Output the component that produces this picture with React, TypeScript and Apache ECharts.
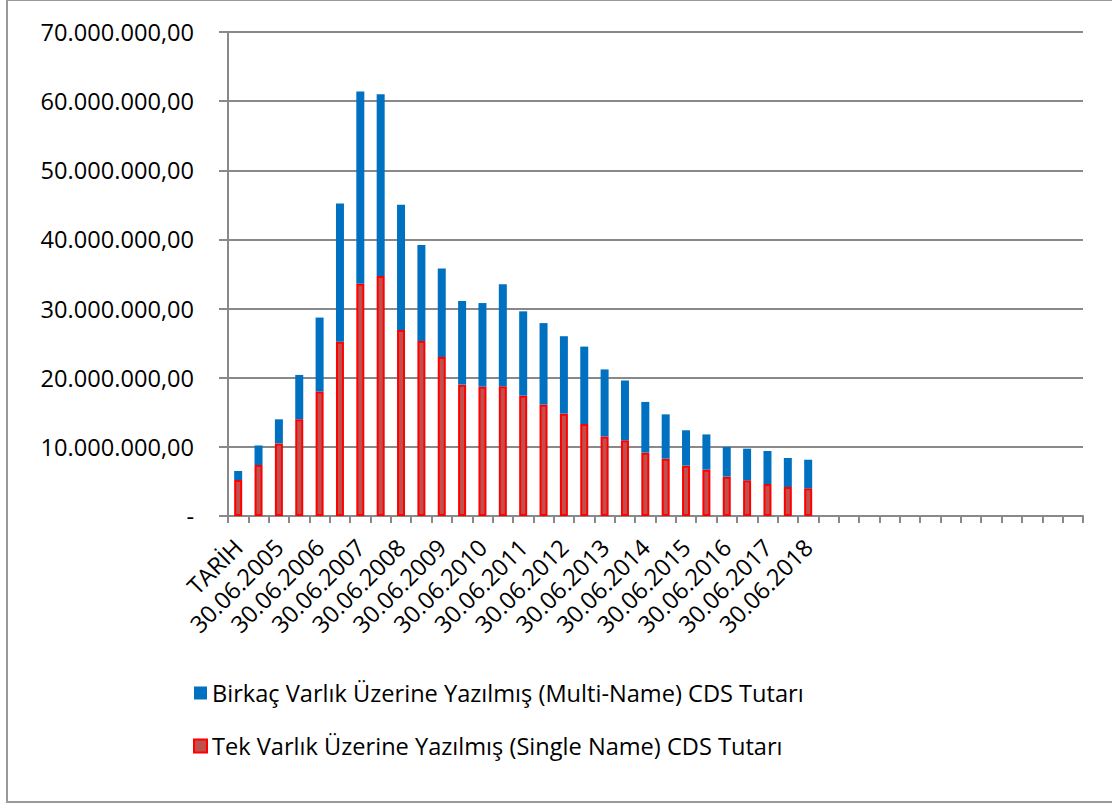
import React, { useEffect, useRef } from "react";
import * as echarts from "echarts";

const categories: string[] = [
  "TARİH", "31.12.2004", "30.06.2005", "31.12.2005", "30.06.2006", "31.12.2006",
  "30.06.2007", "31.12.2007", "30.06.2008", "31.12.2008", "30.06.2009", "31.12.2009",
  "30.06.2010", "31.12.2010", "30.06.2011", "31.12.2011", "30.06.2012", "31.12.2012",
  "30.06.2013", "31.12.2013", "30.06.2014", "31.12.2014", "30.06.2015", "31.12.2015",
  "30.06.2016", "31.12.2016", "30.06.2017", "31.12.2017", "30.06.2018",
  "", "", "", "", "", "", "", "", "", "", "", "", "",
];

// Tek Varlık (Single Name) values
const singleName: number[] = [
  5200000, 7370000, 10500000, 14000000, 18000000, 25200000, 33600000, 34700000,
  26900000, 25300000, 23000000, 19000000, 18700000, 18750000, 17400000, 16100000,
  14800000, 13300000, 11500000, 10950000, 9160000, 8290000, 7280000, 6700000,
  5690000, 5160000, 4630000, 4190000, 4000000,
];

// Birkaç Varlık (Multi-Name) values
const multiName: number[] = [
  1310000, 2830000, 3480000, 6400000, 10700000, 20000000, 27800000, 26300000,
  18100000, 13900000, 12800000, 12100000, 12100000, 14750000, 12200000, 11800000,
  11200000, 11200000, 9700000, 8650000, 7340000, 6410000, 5120000, 5100000,
  4290000, 4580000, 4770000, 4200000, 4140000,
];

const yTicks = { min: 0, max: 70000000, interval: 10000000 };

const multiLabel = "Birkaç Varlık Üzerine Yazılmış (Multi-Name) CDS Tutarı";
const singleLabel = "Tek Varlık Üzerine Yazılmış (Single Name) CDS Tutarı";

function fmt(v: number): string {
  if (v === 0) return "-";
  const s = Math.round(v).toString();
  return s.replace(/\B(?=(\d{3})+(?!\d))/g, ".") + ",00";
}

const FONT = "Open Sans";
const FS = 23.6;

export default function App() {
  const ref = useRef<HTMLDivElement>(null);
  useEffect(() => {
    if (!ref.current) return;
    const chart = echarts.init(ref.current, null, { renderer: "svg" });
    chart.setOption({
      animation: false,
      backgroundColor: "#ffffff",
      textStyle: { fontFamily: FONT },
      graphic: [
        {
          type: "rect",
          shape: { x: 7, y: 0, width: 1130, height: 802 },
          style: { fill: "none", stroke: "#9a9a9a", lineWidth: 2 },
          silent: true,
        },
      ],
      grid: { left: 228, top: 32, right: 29, bottom: 289, containLabel: false },
      legend: {
        orient: "vertical",
        left: 188,
        top: 676,
        itemWidth: 13,
        itemHeight: 13,
        itemGap: 29,
        icon: "rect",
        data: [multiLabel, singleLabel],
        textStyle: { fontFamily: FONT, fontSize: FS, color: "#000" },
      },
      xAxis: {
        type: "category",
        data: categories,
        boundaryGap: true,
        axisLine: { lineStyle: { color: "#898989", width: 2 } },
        axisTick: { show: true, interval: 0, length: 7, lineStyle: { color: "#898989", width: 2 } },
        axisLabel: {
          interval: 1,
          rotate: 45,
          margin: 27,
          fontFamily: FONT,
          fontSize: FS,
          color: "#000",
        },
        splitLine: { show: false },
      },
      yAxis: {
        type: "value",
        min: yTicks.min,
        max: yTicks.max,
        interval: yTicks.interval,
        axisLine: { show: true, lineStyle: { color: "#898989", width: 2 } },
        axisTick: { show: true, length: 9, lineStyle: { color: "#898989", width: 2 } },
        axisLabel: {
          margin: 34,
          fontFamily: FONT,
          fontSize: FS,
          color: "#000",
          formatter: (v: number) => fmt(v),
        },
        splitLine: { show: true, lineStyle: { color: "#898989", width: 2 } },
      },
      series: [
        {
          name: singleLabel,
          type: "bar",
          stack: "total",
          barWidth: 8,
          data: singleName,
          itemStyle: { color: "#C0504D", borderColor: "#FF0000", borderWidth: 2 },
        },
        {
          name: multiLabel,
          type: "bar",
          stack: "total",
          barWidth: 8,
          data: multiName,
          itemStyle: { color: "#0070C0" },
        },
      ],
    });
    return () => chart.dispose();
  }, []);
  return (
    <div
      ref={ref}
      style={{ position: "fixed", left: 0, top: 0, width: 1112, height: 805 }}
    />
  );
}
